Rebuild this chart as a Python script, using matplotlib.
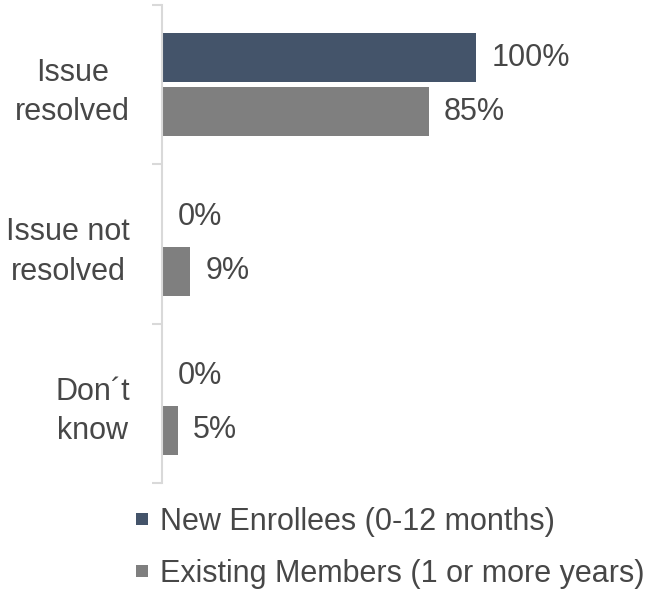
import matplotlib.pyplot as plt
from matplotlib.lines import Line2D
import numpy as np

categories = ["Issue\nresolved", "Issue not\nresolved", "Don\u00b4t\nknow"]
new_enrollees = [100, 0, 0]
existing_members = [85, 9, 5]
series_names = ["New Enrollees (0-12 months)", "Existing Members (1 or more years)"]
colors = ["#44546A", "#7F7F7F"]

plt.rcParams['font.family'] = ['Liberation Sans', 'DejaVu Sans']
text_color = "#474747"
fs = 22

fig = plt.figure(figsize=(6.47, 5.92), dpi=100)
ax = fig.add_axes([162/647, 109/592, 485/647, 478/592])

y = np.arange(len(categories))
h = 0.307
off = 0.17
for vals, dy, c in [(new_enrollees, -off, colors[0]), (existing_members, off, colors[1])]:
    bars = ax.barh(y + dy, vals, height=h, color=c)
    for b, v in zip(bars, vals):
        ax.annotate(f"{v}%", (b.get_width(), b.get_y() + b.get_height()/2),
                    xytext=(11, 0), textcoords="offset points",
                    va="center", ha="left", fontsize=fs, color=text_color)

ax.set_xlim(0, 154.5)
ax.set_ylim(2.5, -0.5)
ax.set_xticks([])
ax.set_yticks(y)
ax.set_yticklabels(categories, fontsize=fs, color=text_color)
for lbl in ax.get_yticklabels():
    lbl.set_multialignment("center")
    lbl.set_linespacing(1.4)
ax.set_yticks([-0.5, 0.5, 1.5, 2.5], minor=True)
ax.tick_params(axis="y", which="major", length=0, pad=23)
ax.tick_params(axis="y", which="minor", length=7, width=1.5, color="#D9D9D9")
for s in ["top", "right", "bottom"]:
    ax.spines[s].set_visible(False)
ax.spines["left"].set_color("#D9D9D9")
ax.spines["left"].set_linewidth(1.5)

handles = [Line2D([], [], marker="s", linestyle="None", markersize=8,
                  markeredgewidth=0, color=c) for c in colors]
fig.legend(handles, series_names, loc="upper left",
           bbox_to_anchor=(136/647, 1 - 507/592), frameon=False,
           fontsize=fs, labelcolor=text_color, handlelength=0.4,
           handletextpad=0.4, labelspacing=0.72,
           borderpad=0, borderaxespad=0)

fig.savefig("out.png", dpi=100)
